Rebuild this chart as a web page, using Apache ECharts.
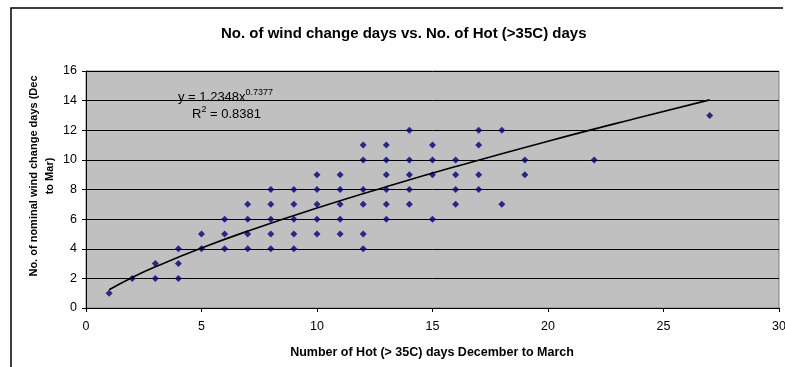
<!DOCTYPE html>
<html>
<head>
<meta charset="utf-8">
<script src="https://cdn.jsdelivr.net/npm/echarts@6/dist/echarts.min.js"></script>
<style>
  html, body { margin: 0; padding: 0; background: #fff; }
  #chart { width: 785px; height: 367px; }
</style>
</head>
<body>
<div id="chart"></div>
<script>
// hot days (x) and wind change days (y), one entry per point
var hotDays = [
    1,
    2,
    3, 3,
    4, 4, 4,
    5, 5,
    6, 6, 6,
    7, 7, 7, 7,
    8, 8, 8, 8, 8,
    9, 9, 9, 9, 9,
    10, 10, 10, 10, 10,
    11, 11, 11, 11, 11,
    12, 12, 12, 12, 12, 12,
    13, 13, 13, 13, 13, 13,
    14, 14, 14, 14, 14,
    15, 15, 15, 15,
    16, 16, 16, 16,
    17, 17, 17, 17,
    18, 18,
    19, 19,
    22,
    27
];
var windDays = [
    1,
    2,
    3, 2,
    4, 3, 2,
    5, 4,
    6, 5, 4,
    7, 6, 5, 4,
    8, 7, 6, 5, 4,
    8, 7, 6, 5, 4,
    9, 8, 7, 6, 5,
    9, 8, 7, 6, 5,
    11, 10, 8, 7, 5, 4,
    11, 10, 9, 8, 7, 6,
    12, 10, 9, 8, 7,
    11, 10, 9, 6,
    10, 9, 8, 7,
    12, 11, 9, 8,
    12, 7,
    10, 9,
    10,
    13
];

// power trend line as drawn on the picture
var trendX = [1, 2, 3, 5, 7, 10, 13, 16, 20, 24, 27];
var trendY = [1.23, 2.06, 2.78, 4.05, 5.19, 6.75, 8.19, 9.55, 11.26, 12.88, 14.05];

var xTicks = [0, 5, 10, 15, 20, 25, 30];
var yTicks = [0, 2, 4, 6, 8, 10, 12, 14, 16];

var points = hotDays.map(function (x, i) { return [x, windDays[i]]; });
var trend = trendX.map(function (x, i) { return [x, trendY[i]]; });

var myChart = echarts.init(document.getElementById('chart'));
var font = 'Liberation Sans, Arial, sans-serif';

var option = {
    backgroundColor: '#fff',
    animation: false,
    title: {
        text: 'No. of wind change days vs. No. of Hot (>35C) days',
        left: 216,
        top: 21,
        textStyle: { fontFamily: font, fontSize: 15, fontWeight: 'bold', color: '#000' }
    },
    grid: {
        left: 86,
        right: 6,
        top: 71,
        bottom: 59,
        outerBoundsMode: 'none',
        show: true,
        backgroundColor: '#c0c0c0',
        borderColor: '#808080',
        borderWidth: 1
    },
    xAxis: {
        type: 'value',
        min: xTicks[0],
        max: xTicks[xTicks.length - 1],
        interval: 5,
        axisLine: { show: true, lineStyle: { color: '#000', width: 1 } },
        axisTick: { show: true, length: 4, lineStyle: { color: '#000' } },
        axisLabel: { color: '#000', fontFamily: font, fontSize: 12.5, margin: 12 },
        splitLine: { show: false }
    },
    yAxis: {
        type: 'value',
        min: yTicks[0],
        max: yTicks[yTicks.length - 1],
        interval: 2,
        axisLine: { show: true, lineStyle: { color: '#000', width: 1 } },
        axisTick: { show: true, length: 4, lineStyle: { color: '#000' } },
        axisLabel: { color: '#000', fontFamily: font, fontSize: 12.5, margin: 9 },
        splitLine: { show: true, lineStyle: { color: '#000', width: 1 } }
    },
    graphic: [
        {
            type: 'polyline',
            shape: { points: [[11, 400], [11, 8], [783, 8]] },
            style: { stroke: '#000', lineWidth: 1.5, fill: null },
            silent: true
        },
        {
            type: 'text',
            x: 432,
            y: 353,
            style: {
                text: 'Number of Hot (> 35C) days December to March',
                font: 'bold 12.5px ' + font,
                fill: '#000',
                align: 'center',
                verticalAlign: 'middle'
            }
        },
        {
            type: 'text',
            x: 42,
            y: 176,
            rotation: Math.PI / 2,
            style: {
                text: 'No. of nominal wind change days (Dec\nto Mar)',
                font: 'bold 11px ' + font,
                fill: '#000',
                align: 'center',
                verticalAlign: 'middle',
                lineHeight: 16
            }
        },
        {
            type: 'text',
            left: 178,
            top: 88,
            style: {
                text: '{n|y = 1.2348x}{s|0.7377}',
                rich: {
                    n: { font: '13px ' + font, fill: '#000', verticalAlign: 'bottom' },
                    s: { font: '9px ' + font, fill: '#000', verticalAlign: 'top', padding: [0, 0, 7, 0] }
                }
            }
        },
        {
            type: 'text',
            left: 192,
            top: 105,
            style: {
                text: '{n|R}{s|2}{n| = 0.8381}',
                rich: {
                    n: { font: '13px ' + font, fill: '#000', verticalAlign: 'bottom' },
                    s: { font: '9px ' + font, fill: '#000', verticalAlign: 'top', padding: [0, 0, 7, 0] }
                }
            }
        }
    ],
    series: [{
        name: 'days',
        type: 'scatter',
        symbol: 'diamond',
        symbolSize: 7,
        itemStyle: { color: '#000080' },
        data: points,
        z: 3
    }, {
        name: 'trend',
        type: 'line',
        smooth: true,
        showSymbol: false,
        lineStyle: { color: '#000', width: 1.6 },
        data: trend,
        z: 4
    }]
};

myChart.setOption(option);
</script>
</body>
</html>
